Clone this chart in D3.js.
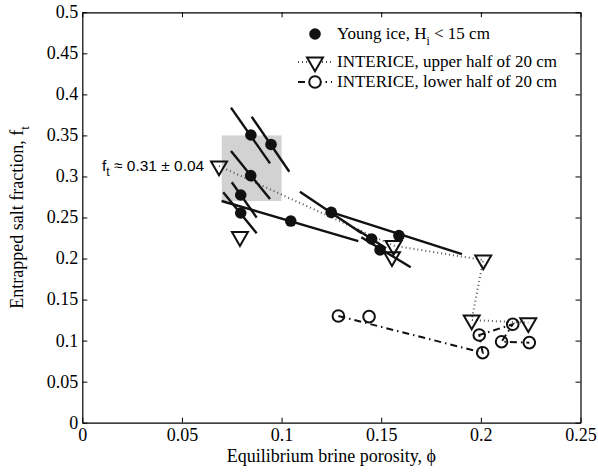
<!DOCTYPE html>
<html lang="en">
<head>
    <meta charset="UTF-8">
    <title>Entrapped salt fraction vs brine porosity</title>
    <script src="https://d3js.org/d3.v7.min.js"></script>
    <style>
        body { margin: 0; background: #fff; }
    </style>
</head>
<body>
    <svg id="chart" width="598" height="472"></svg>

    <script>
        // axis ticks
        const xTicks = [0, 0.05, 0.1, 0.15, 0.2, 0.25];
        const xTickLabels = ['0', '0.05', '0.1', '0.15', '0.2', '0.25'];
        const yTicks = [0, 0.05, 0.1, 0.15, 0.2, 0.25, 0.3, 0.35, 0.4, 0.45, 0.5];
        const yTickLabels = ['0', '0.05', '0.1', '0.15', '0.2', '0.25', '0.3', '0.35', '0.4', '0.45', '0.5'];

        // young ice: point + ends of the uncertainty segment
        const youngX  = [0.0846, 0.0947, 0.0845, 0.0795, 0.0795, 0.1046, 0.1249, 0.1452, 0.1589, 0.1494];
        const youngY  = [0.3505, 0.3390, 0.3010, 0.2774, 0.2555, 0.2457, 0.2563, 0.2238, 0.2280, 0.2104];
        const youngX1 = [0.0746, 0.0850, 0.0746, 0.0750, 0.0707, 0.0699, 0.1092, 0.1380, 0.1248, 0.1400];
        const youngY1 = [0.3838, 0.3728, 0.3310, 0.2930, 0.2807, 0.2701, 0.2814, 0.2350, 0.2565, 0.2260];
        const youngX2 = [0.0942, 0.1039, 0.0942, 0.0875, 0.0875, 0.1385, 0.1400, 0.1524, 0.1905, 0.1648];
        const youngY2 = [0.3160, 0.3058, 0.2725, 0.2498, 0.2307, 0.2213, 0.2311, 0.2126, 0.2055, 0.1893];

        // INTERICE upper half (null = break in the dotted line)
        const upperX = [0.0686, 0.1562, 0.2012, 0.1954, 0.2238, null, 0.0791, null, 0.1554];
        const upperY = [0.3127, 0.2157, 0.1982, 0.1251, 0.1218, null, 0.2266, null, 0.2022];

        // INTERICE lower half
        const lowerX = [0.1285, 0.2009, 0.1992, 0.2160, 0.2104, 0.2243, null, 0.1439];
        const lowerY = [0.1300, 0.0853, 0.1068, 0.1199, 0.0987, 0.0975, null, 0.1292];

        // shaded range f_t = 0.31 +/- 0.04
        const boxX = [0.07, 0.10];
        const boxY = [0.27, 0.35];

        const width = 598;
        const height = 472;
        const margin = { top: 12.3, right: 17.5, bottom: 49.3, left: 82.3 };
        const serif = '"Liberation Serif", Tinos, "Times New Roman", Times, serif';

        const svg = d3.select('#chart');

        const x = d3.scaleLinear()
            .domain([0, 0.25])
            .range([margin.left, width - margin.right]);

        const y = d3.scaleLinear()
            .domain([0, 0.5])
            .range([height - margin.bottom, margin.top]);

        // shaded box
        svg.append('rect')
            .attr('x', x(boxX[0]))
            .attr('y', y(boxY[1]))
            .attr('width', x(boxX[1]) - x(boxX[0]))
            .attr('height', y(boxY[0]) - y(boxY[1]))
            .attr('fill', '#d2d2d2');

        // axes, ticks pointing inward on all four sides
        const fmtX = (d, i) => xTickLabels[i];
        const fmtY = (d, i) => yTickLabels[i];

        const gx = svg.append('g')
            .attr('transform', `translate(0,${height - margin.bottom})`)
            .call(d3.axisBottom(x).tickValues(xTicks).tickFormat(fmtX).tickSizeInner(-5).tickSizeOuter(0).tickPadding(3));
        svg.append('g')
            .attr('transform', `translate(0,${margin.top})`)
            .call(d3.axisTop(x).tickValues(xTicks).tickFormat('').tickSizeInner(-5).tickSizeOuter(0));
        const gy = svg.append('g')
            .attr('transform', `translate(${margin.left},0)`)
            .call(d3.axisLeft(y).tickValues(yTicks).tickFormat(fmtY).tickSizeInner(-5).tickSizeOuter(0).tickPadding(4));
        svg.append('g')
            .attr('transform', `translate(${width - margin.right},0)`)
            .call(d3.axisRight(y).tickValues(yTicks).tickFormat('').tickSizeInner(-5).tickSizeOuter(0));

        svg.selectAll('g').attr('font-family', null).attr('font-size', null);
        svg.selectAll('.domain').attr('stroke', '#000').attr('stroke-width', 1.2);
        svg.selectAll('.tick line').attr('stroke', '#000');
        svg.selectAll('.tick text').style('font-size', '18px');
        gx.selectAll('.tick text').attr('dy', '0.85em');
        gy.selectAll('.tick text').attr('dy', '0.3em');

        // axis labels
        svg.append('text')
            .attr('x', (x(0) + x(0.25)) / 2)
            .attr('y', height - 10)
            .attr('text-anchor', 'middle')
            .style('font-size', '18px')
            .text('Equilibrium brine porosity, \u03d5');

        const yl = svg.append('text')
            .attr('transform', `translate(23,${(y(0) + y(0.5)) / 2}) rotate(-90)`)
            .attr('text-anchor', 'middle')
            .style('font-size', '18px');
        yl.append('tspan').text('Entrapped salt fraction, f');
        yl.append('tspan').attr('dy', 6).style('font-size', '13px').text('t');

        // INTERICE lines
        const line = d3.line()
            .defined(d => d[0] !== null)
            .x(d => x(d[0]))
            .y(d => y(d[1]));

        const upper = upperX.map((v, i) => [v, upperY[i]]);
        const lower = lowerX.map((v, i) => [v, lowerY[i]]);

        svg.append('path')
            .attr('d', line(upper))
            .attr('fill', 'none')
            .attr('stroke', '#555')
            .attr('stroke-width', 2)
            .attr('stroke-dasharray', '1,3');

        svg.append('path')
            .attr('d', line(lower))
            .attr('fill', 'none')
            .attr('stroke', '#111')
            .attr('stroke-width', 2)
            .attr('stroke-dasharray', '7,4,1.5,4');

        // young ice uncertainty segments and points
        const young = youngX.map((v, i) => ({
            x: v, y: youngY[i], x1: youngX1[i], y1: youngY1[i], x2: youngX2[i], y2: youngY2[i]
        }));

        svg.append('g').selectAll('line')
            .data(young)
            .join('line')
            .attr('x1', d => x(d.x1))
            .attr('y1', d => y(d.y1))
            .attr('x2', d => x(d.x2))
            .attr('y2', d => y(d.y2))
            .attr('stroke', '#111')
            .attr('stroke-width', 2.4);

        svg.append('g').selectAll('circle')
            .data(young)
            .join('circle')
            .attr('cx', d => x(d.x))
            .attr('cy', d => y(d.y))
            .attr('r', 5.8)
            .attr('fill', '#111');

        // markers
        const tri = d3.symbol().type(d3.symbolTriangle).size(110);

        svg.append('g').selectAll('path')
            .data(upper.filter(d => d[0] !== null))
            .join('path')
            .attr('d', tri)
            .attr('transform', d => `translate(${x(d[0])},${y(d[1])}) rotate(180)`)
            .attr('fill', 'none')
            .attr('stroke', '#111')
            .attr('stroke-width', 2);

        svg.append('g').selectAll('circle')
            .data(lower.filter(d => d[0] !== null))
            .join('circle')
            .attr('cx', d => x(d[0]))
            .attr('cy', d => y(d[1]))
            .attr('r', 5.8)
            .attr('fill', 'none')
            .attr('stroke', '#111')
            .attr('stroke-width', 2);

        // legend
        const legend = svg.append('g').attr('transform', 'translate(298,0)');
        const legendRows = [36, 62, 82];

        legend.append('circle').attr('cx', 17).attr('cy', legendRows[0] - 2).attr('r', 5.8).attr('fill', '#111');
        legend.append('line').attr('x1', 0).attr('x2', 34).attr('y1', legendRows[1]).attr('y2', legendRows[1])
            .attr('stroke', '#555').attr('stroke-width', 2).attr('stroke-dasharray', '1,3');
        legend.append('path').attr('d', tri).attr('transform', `translate(17,${legendRows[1]}) rotate(180)`)
            .attr('fill', '#fff').attr('stroke', '#111').attr('stroke-width', 2);
        legend.append('line').attr('x1', 0).attr('x2', 34).attr('y1', legendRows[2]).attr('y2', legendRows[2])
            .attr('stroke', '#111').attr('stroke-width', 2).attr('stroke-dasharray', '7,4,1.5,4');
        legend.append('circle').attr('cx', 17).attr('cy', legendRows[2]).attr('r', 5.8)
            .attr('fill', '#fff').attr('stroke', '#111').attr('stroke-width', 2);

        const t0 = legend.append('text').attr('x', 39).attr('y', legendRows[0] + 3).style('font-size', '17px');
        t0.append('tspan').text('Young ice, H');
        t0.append('tspan').attr('dy', 6).style('font-size', '12px').text('i');
        t0.append('tspan').attr('dy', -6).text(' < 15 cm');
        legend.append('text').attr('x', 39).attr('y', legendRows[1] + 5).style('font-size', '17px')
            .text('INTERICE, upper half of 20 cm');
        legend.append('text').attr('x', 39).attr('y', legendRows[2] + 5).style('font-size', '17px')
            .text('INTERICE, lower half of 20 cm');

        // every text so far is in the serif face
        svg.selectAll('text').style('font-family', serif).attr('fill', '#000');

        // annotation (sans)
        const ann = svg.append('text')
            .attr('x', 102)
            .attr('y', 171)
            .attr('fill', '#000')
            .style('font-family', '"Liberation Sans", Arial, sans-serif')
            .style('font-size', '15.5px');
        ann.append('tspan').text('f');
        ann.append('tspan').attr('dy', 5).style('font-size', '12px').text('t');
        ann.append('tspan').attr('dy', -5).text(' \u2248 0.31 \u00b1 0.04');
    </script>
</body>
</html>
